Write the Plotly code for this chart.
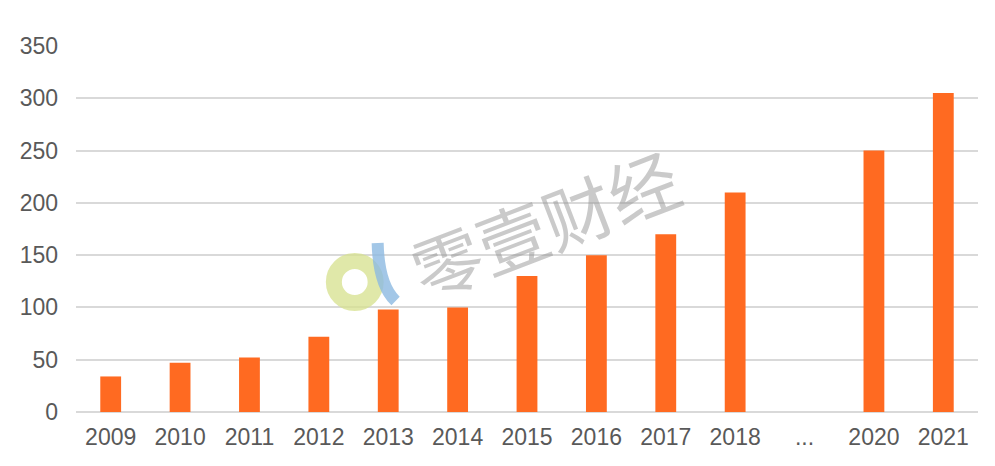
import plotly.graph_objects as go

categories = ["2009", "2010", "2011", "2012", "2013", "2014", "2015", "2016",
              "2017", "2018", "...", "2020", "2021"]
values = [34, 47, 52, 72, 98, 100, 130, 150, 170, 210, None, 250, 305]
tick_vals = [0, 50, 100, 150, 200, 250, 300, 350]

W, H = 995, 466
OFF = 8  # page body margin
# plot area in page pixels: x 72..978, y 46..412
L, T = 72 - OFF, 46 - OFF
R, B = W - (978 - OFF), H - (412 - OFF)
pw, ph = 978 - 72, 412 - 46


def px(x):
    return (x - 72) / pw


def py(y):
    return (412 - y) / ph


fig = go.Figure(go.Bar(
    x=categories, y=values,
    marker=dict(color="#ff6a21", line=dict(width=0)),
    width=0.3,
))

# watermark: logo ring + arc + text
fig.add_shape(type="circle", xref="paper", yref="paper",
              x0=px(352 - 21), x1=px(352 + 21), y0=py(282 + 21), y1=py(282 - 21),
              line=dict(color="rgba(214,224,140,0.75)", width=16), layer="above")
fig.add_shape(type="path", xref="paper", yref="paper",
              path=f"M {px(375)} {py(243)} Q {px(376)} {py(285)} {px(393)} {py(301)}",
              line=dict(color="rgba(140,185,225,0.8)", width=12), layer="above")
fig.add_annotation(xref="paper", yref="paper", x=px(542), y=py(222),
                   text="零壹财经", showarrow=False, textangle=-21,
                   font=dict(family="Noto Sans CJK SC", size=70, color="rgba(150,150,150,0.5)"))

fig.update_layout(
    width=W, height=H,
    margin=dict(l=L, r=R, t=T, b=B),
    plot_bgcolor="white", paper_bgcolor="white",
    showlegend=False,
    bargap=0.7,
    font=dict(family="Liberation Sans, Arial, sans-serif", size=23, color="#595959"),
    xaxis=dict(type="category", categoryorder="array", categoryarray=categories,
               showgrid=False, showline=False, ticks="", ticklabelstandoff=9,
               tickfont=dict(size=23, color="#595959")),
    yaxis=dict(range=[0, 350], tickvals=tick_vals, showgrid=True, gridcolor="#d9d9d9",
               gridwidth=1.5, zeroline=True, zerolinecolor="#d9d9d9", zerolinewidth=1.5,
               showline=False, ticks="", ticklabelstandoff=17,
               tickfont=dict(size=23, color="#595959")),
)

fig.write_html("out.html")
